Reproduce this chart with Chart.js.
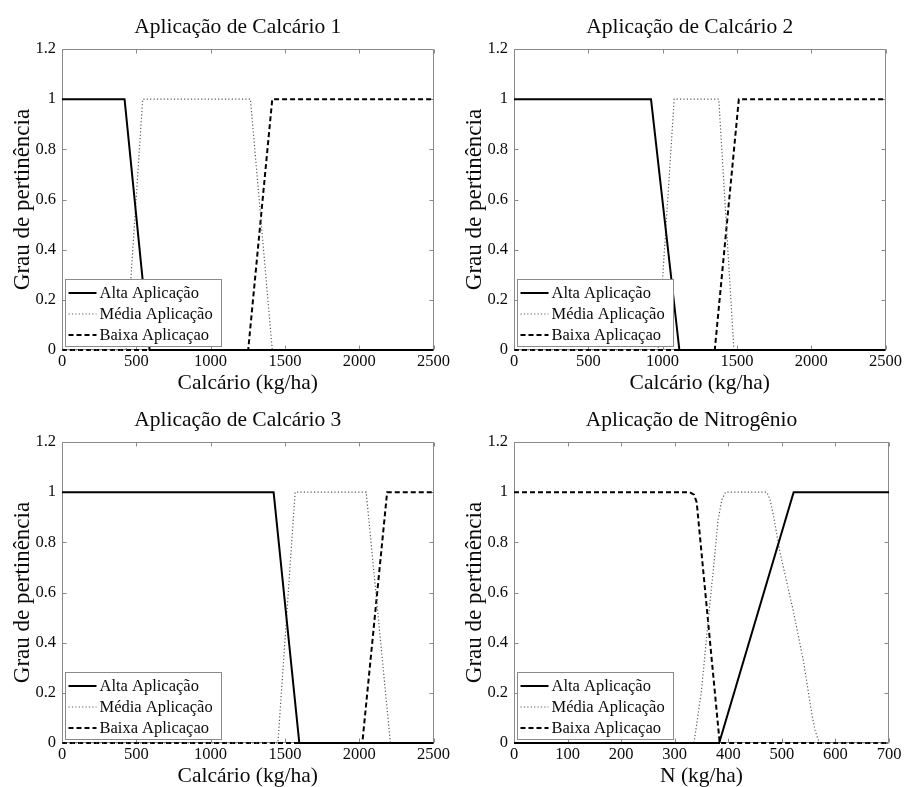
<!DOCTYPE html>
<html lang="pt">
<head>
<meta charset="UTF-8">
<title>Funções de pertinência - Aplicação</title>
<style>
  body { margin: 0; background: #fff; overflow: hidden; }
  .painel { position: absolute; }
</style>
</head>
<body>
<script src="https://cdn.jsdelivr.net/npm/chart.js@4.4.0/dist/chart.umd.min.js"></script>
<div class="painel" style="left:0;top:0"><canvas id="calc1" width="452" height="396"></canvas></div>
<div class="painel" style="left:452px;top:0"><canvas id="calc2" width="452" height="396"></canvas></div>
<div class="painel" style="left:0;top:393px"><canvas id="calc3" width="452" height="396"></canvas></div>
<div class="painel" style="left:452px;top:393px"><canvas id="nitro" width="452" height="396"></canvas></div>
<script>
const rotulosSerie = ['Alta Aplicação', 'Média Aplicação', 'Baixa Aplicaçao'];

// pontos [x, grau] de cada função
const calc1Alta  = [[0, 1], [421, 1], [590, 0], [2500, 0]];
const calc1Media = [[0, 0], [432, 0], [543, 1], [1268, 1], [1415, 0], [2500, 0]];
const calc1Baixa = [[0, 0], [1253, 0], [1415, 1], [2500, 1]];

const calc2Alta  = [[0, 1], [922, 1], [1113, 0], [2500, 0]];
const calc2Media = [[0, 0], [969, 0], [1078, 1], [1378, 1], [1480, 0], [2500, 0]];
const calc2Baixa = [[0, 0], [1351, 0], [1513, 1], [2500, 1]];

const calc3Alta  = [[0, 1], [1424, 1], [1597, 0], [2500, 0]];
const calc3Media = [[0, 0], [1453, 0], [1569, 1], [2047, 1], [2210, 0], [2500, 0]];
const calc3Baixa = [[0, 0], [2021, 0], [2188, 1], [2500, 1]];

const nitroAlta  = [[0, 0], [383, 0], [522, 1], [700, 1]];
const nitroMedia = [[0, 0], [336, 0], [350, 0.21], [363, 0.5], [372, 0.69], [381, 0.89],
                    [388, 0.97], [395, 1], [472, 1], [478, 0.97], [484, 0.91], [497, 0.755],
                    [521, 0.53], [540, 0.33], [556, 0.115], [562, 0.05], [570, 0], [700, 0]];
const nitroBaixa = [[0, 1], [328, 1], [336, 0.99], [341, 0.96], [384, 0], [700, 0]];

const ticksCalcario = [0, 500, 1000, 1500, 2000, 2500];
const ticksNitro = [0, 100, 200, 300, 400, 500, 600, 700];
const ticksGrau = [0, 0.2, 0.4, 0.6, 0.8, 1, 1.2];

const SERIF = '"Liberation Serif", "Times New Roman", serif';
Chart.defaults.font.family = SERIF;
Chart.defaults.color = '#0a0a0a';

const estilos = [
  { cor: '#000', largura: 2, traco: [] },
  { cor: '#5a5a5a', largura: 1.2, traco: [1.2, 2.2] },
  { cor: '#000', largura: 2, traco: [5, 3] }
];

// caixa do eixo com marcas para dentro nos quatro lados
const moldura = {
  id: 'moldura',
  beforeDatasetsDraw(chart) {
    const { ctx, chartArea: a, scales: { x, y } } = chart;
    const l = Math.round(a.left) + 0.5, r = Math.round(a.right) - 0.5;
    const t = Math.round(a.top) + 0.5, b = Math.round(a.bottom) - 0.5;
    ctx.save();
    ctx.strokeStyle = '#8a8a8a';
    ctx.lineWidth = 1;
    ctx.beginPath();
    ctx.rect(l, t, r - l, b - t);
    x.ticks.forEach(tk => {
      const px = Math.round(x.getPixelForValue(tk.value)) + 0.5;
      ctx.moveTo(px, b); ctx.lineTo(px, b - 4);
      ctx.moveTo(px, t); ctx.lineTo(px, t + 4);
    });
    y.ticks.forEach(tk => {
      const py = Math.round(y.getPixelForValue(tk.value)) + 0.5;
      ctx.moveTo(l, py); ctx.lineTo(l + 4, py);
      ctx.moveTo(r, py); ctx.lineTo(r - 4, py);
    });
    ctx.stroke();
    ctx.restore();
  }
};

// legenda dentro do gráfico, canto inferior esquerdo
const legendaInterna = {
  id: 'legendaInterna',
  afterDatasetsDraw(chart) {
    const { ctx, chartArea: a } = chart;
    const sets = chart.data.datasets;
    ctx.save();
    ctx.font = '16.5px ' + SERIF;
    const larguraTexto = Math.max(...sets.map(d => ctx.measureText(d.label).width));
    const w = Math.round(34 + larguraTexto + 9), h = 67;
    const x0 = Math.round(a.left) + 3.5, y0 = Math.round(a.bottom - 4 - h) + 0.5;
    ctx.fillStyle = '#fff';
    ctx.fillRect(x0, y0, w, h);
    ctx.strokeStyle = '#8a8a8a';
    ctx.lineWidth = 1;
    ctx.strokeRect(x0, y0, w, h);
    sets.forEach((d, i) => {
      const cy = y0 + 13.5 + i * 21;
      ctx.beginPath();
      ctx.strokeStyle = d.borderColor;
      ctx.lineWidth = d.borderWidth;
      ctx.setLineDash(d.borderDash);
      ctx.moveTo(x0 + 3, cy);
      ctx.lineTo(x0 + 31, cy);
      ctx.stroke();
      ctx.setLineDash([]);
      ctx.fillStyle = '#0a0a0a';
      ctx.textAlign = 'left';
      ctx.textBaseline = 'middle';
      ctx.fillText(d.label, x0 + 34, cy + 1);
    });
    ctx.restore();
  }
};

const tituloPainel = {
  id: 'tituloPainel',
  afterDraw(chart, args, opts) {
    const { ctx, chartArea: a } = chart;
    ctx.save();
    ctx.font = '21.5px ' + SERIF;
    ctx.fillStyle = '#0a0a0a';
    ctx.textAlign = 'center';
    ctx.textBaseline = 'alphabetic';
    ctx.fillText(opts.text, (a.left + a.right) / 2 - 10, a.top - 16);
    ctx.restore();
  }
};

function grafico(id, titulo, rotuloX, ticksX, series, direita) {
  const maxX = ticksX[ticksX.length - 1];
  return new Chart(document.getElementById(id), {
    type: 'line',
    data: {
      datasets: series.map((pts, i) => ({
        label: rotulosSerie[i],
        data: pts.map(p => ({ x: p[0], y: p[1] })),
        borderColor: estilos[i].cor,
        borderWidth: estilos[i].largura,
        borderDash: estilos[i].traco,
        pointRadius: 0,
        fill: false,
        tension: 0,
        clip: false
      }))
    },
    options: {
      responsive: false,
      animation: false,
      events: [],
      layout: { padding: { top: 49, right: direita } },
      plugins: {
        legend: { display: false },
        tooltip: { enabled: false },
        tituloPainel: { text: titulo }
      },
      scales: {
        x: {
          type: 'linear',
          min: 0,
          max: maxX,
          afterBuildTicks: s => { s.ticks = ticksX.map(v => ({ value: v })); },
          afterFit: s => { s.height = 46; },
          ticks: {
            callback: v => String(v),
            font: { size: 16.5 },
            padding: 2,
            maxRotation: 0,
            autoSkip: false
          },
          grid: { display: false, drawTicks: false },
          border: { display: false },
          title: {
            display: true,
            text: rotuloX,
            font: { size: 21.5, lineHeight: 1 },
            padding: { top: 0, bottom: 1.5 }
          }
        },
        y: {
          min: 0,
          max: 1.2,
          afterBuildTicks: s => { s.ticks = ticksGrau.map(v => ({ value: v })); },
          afterFit: s => { s.width = 62; },
          ticks: {
            callback: v => String(+v.toFixed(1)),
            font: { size: 16.5 },
            padding: 6
          },
          grid: { display: false, drawTicks: false },
          border: { display: false },
          title: {
            display: true,
            text: 'Grau de pertinência',
            font: { size: 23, lineHeight: 1 },
            padding: { top: 11.5, bottom: 0 }
          }
        }
      }
    },
    plugins: [moldura, legendaInterna, tituloPainel]
  });
}

grafico('calc1', 'Aplicação de Calcário 1', 'Calcário (kg/ha)', ticksCalcario,
  [calc1Alta, calc1Media, calc1Baixa], 16);
grafico('calc2', 'Aplicação de Calcário 2', 'Calcário (kg/ha)', ticksCalcario,
  [calc2Alta, calc2Media, calc2Baixa], 15);
grafico('calc3', 'Aplicação de Calcário 3', 'Calcário (kg/ha)', ticksCalcario,
  [calc3Alta, calc3Media, calc3Baixa], 16);
grafico('nitro', 'Aplicação de Nitrogênio', 'N (kg/ha)', ticksNitro,
  [nitroAlta, nitroMedia, nitroBaixa], 15);
</script>
</body>
</html>
